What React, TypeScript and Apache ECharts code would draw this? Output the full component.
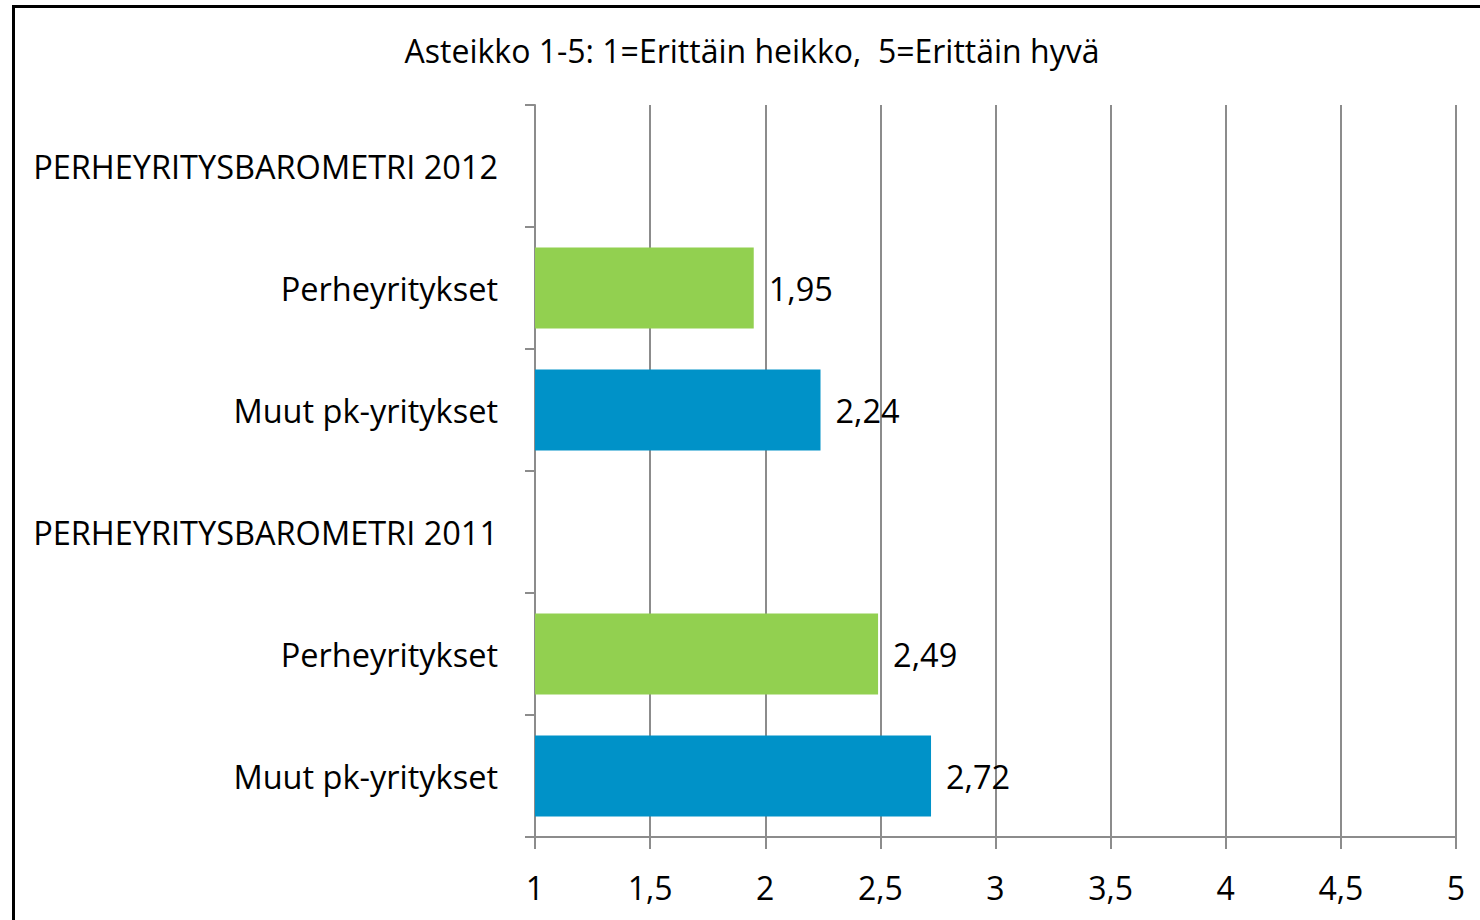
import React, { useEffect, useRef } from "react";
import * as echarts from "echarts";

const categoryKeys = ["h2012", "p2012", "m2012", "h2011", "p2011", "m2011"];
const categoryLabels = [
  "PERHEYRITYSBAROMETRI 2012",
  "Perheyritykset",
  "Muut pk-yritykset",
  "PERHEYRITYSBAROMETRI 2011",
  "Perheyritykset",
  "Muut pk-yritykset",
];
const values: (number | null)[] = [null, 1.95, 2.24, null, 2.49, 2.72];
const barColors = ["#92D050", "#92D050", "#0092C8", "#92D050", "#92D050", "#0092C8"];
const titleText = "Asteikko 1-5: 1=Erittäin heikko,  5=Erittäin hyvä";

const FONT = "'Open Sans', Lato, sans-serif";

export default function App() {
  const ref = useRef<HTMLDivElement>(null);
  useEffect(() => {
    if (!ref.current) return;
    const chart = echarts.init(ref.current, null, { renderer: "svg" });
    const gray = "#8c8c8c";
    chart.setOption({
      animation: false,
      backgroundColor: "#ffffff",
      textStyle: { fontFamily: FONT },
      graphic: [
        {
          type: "rect",
          shape: { x: 13.5, y: 6.5, width: 1500, height: 950 },
          style: { fill: "none", stroke: "#000", lineWidth: 3 },
          z: 100,
        },
        {
          type: "text",
          x: 752,
          y: 50,
          style: {
            text: titleText,
            fontSize: 32,
            fontFamily: FONT,
            fill: "#000",
            align: "center",
            verticalAlign: "middle",
          },
        },
      ],
      grid: { left: 535, right: 24, top: 105, bottom: 83, containLabel: false },
      xAxis: {
        type: "value",
        min: 1,
        max: 5,
        interval: 0.5,
        axisLine: { show: true, lineStyle: { color: gray, width: 2 } },
        axisTick: { show: true, length: 12, lineStyle: { color: gray, width: 2 } },
        splitLine: { show: true, lineStyle: { color: gray, width: 2 } },
        axisLabel: {
          color: "#000",
          fontSize: 32,
          fontFamily: FONT,
          margin: 34,
          formatter: (v: number) => String(v).replace(".", ","),
        },
      },
      yAxis: {
        type: "category",
        inverse: true,
        data: categoryKeys,
        axisLine: { show: true, lineStyle: { color: gray, width: 2 } },
        axisTick: { show: true, length: 10, alignWithLabel: false, lineStyle: { color: gray, width: 2 } },
        axisLabel: {
          color: "#000",
          fontSize: 32.5,
          fontFamily: FONT,
          margin: 37,
          formatter: (v: string) => categoryLabels[categoryKeys.indexOf(v)],
        },
      },
      series: [
        {
          type: "bar",
          data: values.map((v, i) => ({ value: v, itemStyle: { color: barColors[i] } })),
          barWidth: 81,
          label: {
            show: true,
            position: "right",
            distance: 15,
            color: "#000",
            fontSize: 32.5,
            fontFamily: FONT,
            formatter: (p: any) => (p.value == null ? "" : String(p.value).replace(".", ",")),
          },
        },
      ],
    });
    return () => chart.dispose();
  }, []);
  return (
    <div
      ref={ref}
      style={{ position: "fixed", left: 0, top: 0, width: 1480, height: 920 }}
    />
  );
}
